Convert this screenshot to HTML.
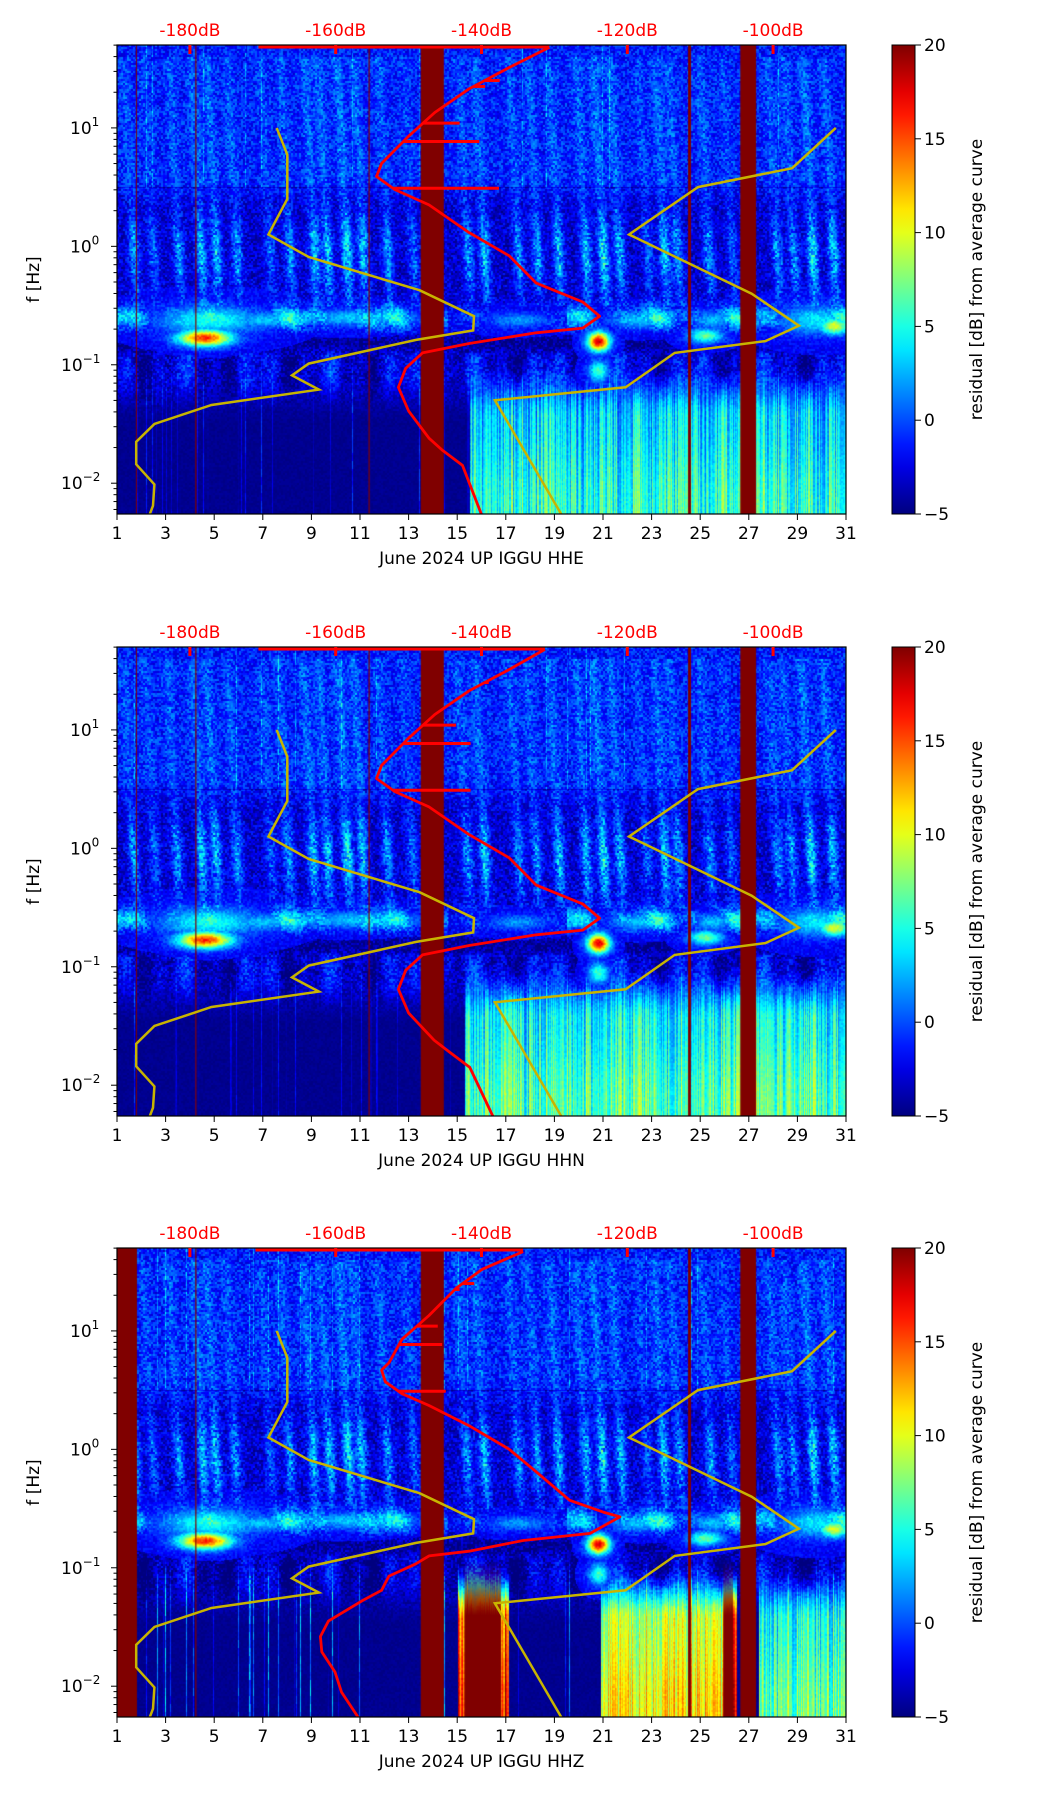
<!DOCTYPE html>
<html><head><meta charset="utf-8">
<style>
html,body{margin:0;padding:0;background:#fff;}
body{width:1052px;height:1806px;position:relative;overflow:hidden;font-family:"DejaVu Sans","Liberation Sans",sans-serif;}
canvas{position:absolute;}
svg{position:absolute;left:0;top:0;}
</style></head>
<body>
<canvas id="c0" width="729" height="469" style="left:117px;top:45px"></canvas>
<canvas id="c1" width="729" height="469" style="left:117px;top:647px"></canvas>
<canvas id="c2" width="729" height="469" style="left:117px;top:1248px"></canvas>
<svg id="ov" width="1052" height="1806"></svg>
<script>
// ---------- data ----------
const panelTops = [45, 647, 1248];
const channelNames = ["HHE", "HHN", "HHZ"];
const dayTicks = [1,3,5,7,9,11,13,15,17,19,21,23,25,27,29,31];
const dbTicks = [-180,-160,-140,-120,-100];
const cbTicks = [-5,0,5,10,15,20];
const yDecades = [-2,-1,0,1];
const red0Db = [-130.7,-136.2,-141.7,-146.4,-150,-153.7,-154.4,-151.9,-147.2,-141.7,-136.2,-132.5,-126.1,-123.8,-126.1,-132.5,-141.7,-148.1,-150.4,-151.4,-150,-147.2,-145.4,-142.6,-139.9];
const red0Lf = [1.68,1.51,1.33,1.13,0.93,0.70,0.59,0.48,0.35,0.116,-0.08,-0.31,-0.47,-0.59,-0.69,-0.73,-0.82,-0.90,-1.03,-1.19,-1.39,-1.62,-1.72,-1.85,-2.28];
const red1Db = [-131.3,-136.2,-141.7,-146.4,-150,-153.7,-154.4,-151.9,-147.2,-141.7,-136.2,-132.5,-126.1,-123.8,-126.1,-132.5,-141.7,-148.1,-150.4,-151.4,-150,-146.5,-144.4,-141.6,-138.3];
const red1Lf = red0Lf;
const red2Db = [-134.3,-139.9,-143.5,-147.2,-150.9,-152.7,-153.7,-153.2,-150.9,-147.2,-141.7,-136.2,-132.5,-127.9,-123.3,-121.0,-125.1,-134.3,-141.7,-147.2,-149.1,-152.7,-153.7,-156.4,-161.0,-162.1,-161.9,-160.1,-159.2,-156.4];
const red2Lf = [1.67,1.52,1.36,1.13,0.93,0.73,0.67,0.57,0.47,0.37,0.20,0.0,-0.19,-0.43,-0.53,-0.57,-0.71,-0.77,-0.86,-0.90,-0.97,-1.07,-1.19,-1.28,-1.45,-1.58,-1.71,-1.88,-2.05,-2.31];
const spikeLf = [0.49,0.885,1.04,1.35,1.40];
const spike0Db = [-137.6,-140.3,-143,-139.5,-137.5];
const spike1Db = [-141.5,-141.5,-143.5,-141,-139];
const spike2Db = [-144.9,-145.4,-146,-143,-141];
const topLine0 = [-170.6,-130.7];
const topLine1 = [-170.6,-131.3];
const topLine2 = [-171,-134.3];
const yelA_day = [7.57,8.01,8.01,7.23,8.89,13.45,15.69,15.66,13.31,8.89,8.20,9.31,4.89,2.54,1.79,1.79,2.54,2.48,2.26];
const yelA_lf  = [1.0,0.774,0.40,0.10,-0.09,-0.37,-0.59,-0.71,-0.79,-0.99,-1.09,-1.21,-1.34,-1.50,-1.65,-1.84,-2.01,-2.19,-2.31];
const yelB_day = [19.39,16.55,21.93,23.95,27.68,29.06,27.12,22.07,24.91,28.78,30.58];
const yelB_lf  = [-2.30,-1.30,-1.19,-0.90,-0.80,-0.67,-0.40,0.10,0.50,0.66,1.0];
const streakDays = [1.6,2.4,3.4,4.4,5.0,5.8,7.2,8.0,9.0,9.6,10.4,11.0,12.0,13.1,15.3,16.0,17.4,18.2,19.1,20.2,20.9,21.6,22.7,23.4,24.0,25.3,26.2,28.1,28.7,29.5,30.4];
const streakAmp  = [4,3,4,5,5,4,3,4,5,5,6,5,4,3,4,5,4,4,5,5,6,5,3,5,4,4,3,4,4,6,5];
const hotDay = [4.6,20.8,25.2,30.5,29.8,20.8,4.8,22.5,25.5,17.5,10.5,7.0,12.5];
const hotLf  = [-0.77,-0.80,-0.75,-0.67,-0.62,-1.05,-0.62,-0.62,-0.62,-0.62,-0.60,-0.62,-0.60];
const hotRd  = [1.1,0.45,0.7,0.6,1.5,0.4,2.0,1.2,0.8,1.2,1.6,1.4,1.0];
const hotRf  = [0.07,0.08,0.06,0.07,0.12,0.09,0.12,0.07,0.07,0.06,0.07,0.07,0.06];
const hotAmp = [18,20,9,12,6,8,7,5,5,4,5,5,4];
const low0Start = [15.5], low0End = [31], low0Lvl = [3.5];
const low1Start = [15.3], low1End = [31], low1Lvl = [4.5];
const low2Start = [15.0,20.9,25.9,27.4], low2End = [17.1,25.9,26.5,31], low2Lvl = [15,9,15,5];
const out0Start = [13.5,26.65,24.5,1.78,4.22,11.35], out0End = [14.45,27.3,24.62,1.82,4.27,11.4];
const out2Start = [1.0,13.5,24.5,26.65,4.22,1.78], out2End = [1.8,14.45,24.62,27.3,4.27,1.82];
const out2LowStart=[15.3,25.95], out2LowEnd=[16.8,26.35];

// ---------- scales ----------
const X0=117, W=729, H=469, LF_TOP=1.70, LF_BOT=-2.26;
const xDay = d => X0 + (d-1)*W/30;
const xDb = db => X0 + (db+190)*W/100;
const yLf = (top,lf) => top + (LF_TOP-lf)*H/(LF_TOP-LF_BOT);

function jet(v){
  let t=(v+5)/25; t=Math.max(0,Math.min(1,t));
  const c=x=>Math.max(0,Math.min(1,x));
  return [c(1.5-Math.abs(4*t-3))*255|0, c(1.5-Math.abs(4*t-2))*255|0, c(1.5-Math.abs(4*t-1))*255|0];
}
function hash(i,j,s){let h=(i*374761393+j*668265263+s*982451653)|0;h=(h^(h>>>13))*1274126177|0;return ((h^(h>>>16))>>>0)/4294967296;}
function ss(a,b,x){let t=Math.max(0,Math.min(1,(x-a)/(b-a)));return t*t*(3-2*t);}

function drawSpec(idx){
  const cv=document.getElementById('c'+idx), ctx=cv.getContext('2d');
  const img=ctx.createImageData(W,H), D=img.data;
  const lowS=[low0Start,low1Start,low2Start][idx], lowE=[low0End,low1End,low2End][idx], lowL=[low0Lvl,low1Lvl,low2Lvl][idx];
  const colNoise=[]; for(let x=0;x<W;x++){colNoise.push(hash(x,7,idx+3));}
  const colNoise2=[]; for(let x=0;x<W;x++){colNoise2.push(hash(x>>2,9,idx+7));}
  for(let y=0;y<H;y++){
    const lf=LF_TOP-y*(LF_TOP-LF_BOT)/H;
    for(let x=0;x<W;x++){
      const d=1+x*30/W;
      const n=hash(x>>1,y>>1,idx)-0.5;
      // smooth base
      let base=-3 + 1.8*ss(0.3,0.6,lf);
      const midv=-2.8+1.5*Math.sin(d*2.1)+1.2*Math.sin(d*5.3)-(idx==2?0.8:0);
      const wMid=ss(-1.45,-1.05,lf)*(1-ss(-0.95,-0.85,lf));
      base = base*(1-wMid)+midv*wMid;
      base = base*(ss(-1.5,-1.1,lf)) + (-4.6)*(1-ss(-1.5,-1.1,lf));
      const nAmp = 0.6+3.4*ss(-1.5,-1.0,lf);
      let v=base+n*nAmp;
      if(Math.abs(lf-0.5)<0.006) v-=2;
      const gb=Math.exp(-Math.pow((lf+0.6)/0.1,2));
      let bandAmp=5+2.5*Math.sin(d*1.7)+1.5*Math.sin(d*4.1+lf*10);
      if(d>14.6&&d<19.5) bandAmp*=0.3;
      v+=gb*bandAmp;
      if(lf<-0.72&&lf>-0.9) v-=1.5*Math.sin((lf+0.72)/-0.18*Math.PI);
      if(lf>-0.5 && lf<1.6){
        const env = lf>0.5?0.35:Math.exp(-Math.pow((lf+0.05)/0.4,2))*1.0+0.15;
        for(let k=0;k<streakDays.length;k++){
          const sd=streakDays[k]-0.25*(lf-0.3)+0.1*(hash(k,3,idx)-0.5);
          const dd=(d-sd)/0.22;
          if(Math.abs(dd)<3){v+=streakAmp[k]*env*Math.exp(-dd*dd)*(0.6+0.8*hash(x>>1,y>>1,k+11));}
        }
      }
      if(colNoise[x]>0.93 && lf<-0.9) v+= (idx==2?10:5)*(colNoise[x]-0.93)*14*(0.5+0.5*hash(x,y>>3,idx))*Math.min(1,(-0.9-lf)*3);
      if(colNoise[x]>0.975 && lf>0.5) v+=4*hash(x,y>>2,idx+5);
      if(lf<=-0.95){
        const fade=ss(-0.95,-1.45,lf);
        const deep=ss(-1.4,-2.2,lf);
        for(let k=0;k<lowS.length;k++){
          if(d>=lowS[k]&&d<lowE[k]){
            const lv=lowL[k]-4+6*colNoise[x]+2*colNoise2[x]+2*deep+n*1.5;
            v=Math.max(v, v*(1-fade)+lv*fade);
          }
        }
      }
      for(let k=0;k<hotDay.length;k++){
        const a=(d-hotDay[k])/hotRd[k], b=(lf-hotLf[k])/hotRf[k];
        const r2=a*a+b*b; if(r2<6) v=Math.max(v, -2+hotAmp[k]*Math.exp(-r2)+n*2);
      }
      const c=jet(v), p=(y*W+x)*4;
      D[p]=c[0];D[p+1]=c[1];D[p+2]=c[2];D[p+3]=255;
    }
  }
  ctx.putImageData(img,0,0);
  ctx.fillStyle='#800000';
  const os=idx==2?out2Start:out0Start, oe=idx==2?out2End:out0End;
  for(let k=0;k<os.length;k++){const a=xDay(os[k])-X0,b=xDay(oe[k])-X0;ctx.fillRect(a,0,Math.max(1,b-a),H);}
  if(idx==2){
    for(let k=0;k<out2LowStart.length;k++){
      const a=xDay(out2LowStart[k])-X0,b=xDay(out2LowEnd[k])-X0,yy=yLf(0,-1.15);
      const gr=ctx.createLinearGradient(0,yy-25,0,yy+30);
      gr.addColorStop(0,'rgba(128,0,0,0)');gr.addColorStop(1,'rgba(128,0,0,1)');
      ctx.fillStyle=gr;ctx.fillRect(a,yy-25,b-a,H-yy+25);
    }
  }
}

// ---------- SVG overlay ----------
const NS='http://www.w3.org/2000/svg', ov=document.getElementById('ov');
function el(tag,attrs,parent,text){const e=document.createElementNS(NS,tag);for(const k in attrs)e.setAttribute(k,attrs[k]);if(text!==undefined)e.textContent=text;(parent||ov).appendChild(e);return e;}

const defs=el('defs',{});
const grad=el('linearGradient',{id:'jetg',x1:0,y1:1,x2:0,y2:0},defs);
for(let i=0;i<=20;i++){const c=jet(-5+25*i/20);el('stop',{offset:(i/20),'stop-color':`rgb(${c[0]},${c[1]},${c[2]})`},grad);}

const redDb=[red0Db,red1Db,red2Db], redLf=[red0Lf,red1Lf,red2Lf], spikeDb=[spike0Db,spike1Db,spike2Db], topLines=[topLine0,topLine1,topLine2];

for(let p=0;p<3;p++){
  drawSpec(p);
  const top=panelTops[p], bot=top+H;
  const g=el('g',{});
  
  
  const cp=el('clipPath',{id:'clip'+p},defs); el('rect',{x:X0,y:top,width:W,height:H},cp);
  const gc=el('g',{'clip-path':`url(#clip${p})`},g);
  [[yelA_day,yelA_lf],[yelB_day,yelB_lf]].forEach((s,si)=>{
    const pts=s[0].map((d,i)=>xDay(d).toFixed(1)+','+yLf(top,s[1][i]).toFixed(1)).join(' ');
    const l=el('polyline',{points:pts,fill:'none',stroke:'#c8b400','stroke-width':2.5},gc);
    
    
  });
  const tl=el('line',{x1:xDb(topLines[p][0]),x2:xDb(topLines[p][1]),y1:top+2,y2:top+2,stroke:'#ff0000','stroke-width':3},gc);
  
  
  for(let k=0;k<spikeLf.length;k++){
    const ly=yLf(top,spikeLf[k]);
    let base=0;const dbs=redDb[p],lfs=redLf[p];
    for(let i=0;i<lfs.length-1;i++){if((lfs[i]-spikeLf[k])*(lfs[i+1]-spikeLf[k])<=0){const t=(spikeLf[k]-lfs[i])/(lfs[i+1]-lfs[i]);base=dbs[i]+t*(dbs[i+1]-dbs[i]);break;}}
    const s=el('line',{x1:xDb(base),x2:xDb(spikeDb[p][k]),y1:ly,y2:ly,stroke:'#ff0000','stroke-width':3},gc);
    
    
  }
  const rpts=redDb[p].map((db,i)=>xDb(db).toFixed(1)+','+yLf(top,redLf[p][i]).toFixed(1)).join(' ');
  const rl=el('polyline',{points:rpts,fill:'none',stroke:'#ff0000','stroke-width':2.8,'stroke-linejoin':'round'},gc);
  
  
  el('rect',{x:X0,y:top,width:W,height:H,fill:'none',stroke:'#000','stroke-width':1.2},g);
  dayTicks.forEach(d=>{
    const x=xDay(d);
    el('line',{x1:x,x2:x,y1:bot,y2:bot+6,stroke:'#000','stroke-width':1},g);
    const t=el('text',{x:x,y:bot+25,'text-anchor':'middle','font-size':17,fill:'#000'},g,String(d));
    
    
  });
  const xl=el('text',{x:X0+W/2,y:bot+50,'text-anchor':'middle','font-size':17,fill:'#000','xml:space':'preserve'},g,'June 2024 UP IGGU  '+channelNames[p]);
  
  
  dbTicks.forEach(db=>{
    const x=xDb(db);
    el('line',{x1:x,x2:x,y1:top,y2:top+9,stroke:'#ff0000','stroke-width':3},g);
    const t=el('text',{x:x,y:top-9,'text-anchor':'middle','font-size':17,fill:'#ff0000'},g,db+'dB');
    
    
  });
  for(let dec=-3;dec<=1;dec++){
    for(let m=1;m<10;m++){
      const lf=dec+Math.log10(m); if(lf<LF_BOT||lf>LF_TOP) continue;
      const y=yLf(top,lf);
      el('line',{x1:X0-(m==1?6:3.5),x2:X0,y1:y,y2:y,stroke:'#000','stroke-width':1},g);
    }
  }
  yDecades.forEach(dec=>{
    const y=yLf(top,dec);
    const sx = dec<0 ? X0-56 : X0-47;
    const t=el('text',{x:sx,y:y+6,'font-size':17,fill:'#000'},g);
    
    
    el('tspan',{},t,'10');
    el('tspan',{dy:-8,'font-size':12},t,dec<0?'\u2212'+(-dec):String(dec));
  });
  const yl=el('text',{x:0,y:0,'text-anchor':'middle','font-size':17,fill:'#000',transform:`translate(39,${top+H/2}) rotate(-90)`},g,'f [Hz]');
  
  
  const cb=el('rect',{x:892,y:top,width:23,height:H,fill:'url(#jetg)',stroke:'#000','stroke-width':1},g);
  
  
  cbTicks.forEach(v=>{
    const y=top+H-(v+5)/25*H;
    el('line',{x1:915,x2:921,y1:y,y2:y,stroke:'#000','stroke-width':1},g);
    const t=el('text',{x:924,y:y+6,'font-size':17,fill:'#000'},g,v<0?'\u2212'+(-v):String(v));
    
    
  });
  const cl=el('text',{x:0,y:0,'text-anchor':'middle','font-size':17,fill:'#000',transform:`translate(982,${top+H/2}) rotate(-90)`},g,'residual [dB] from average curve');
  
  
}
</script>
</body></html>
